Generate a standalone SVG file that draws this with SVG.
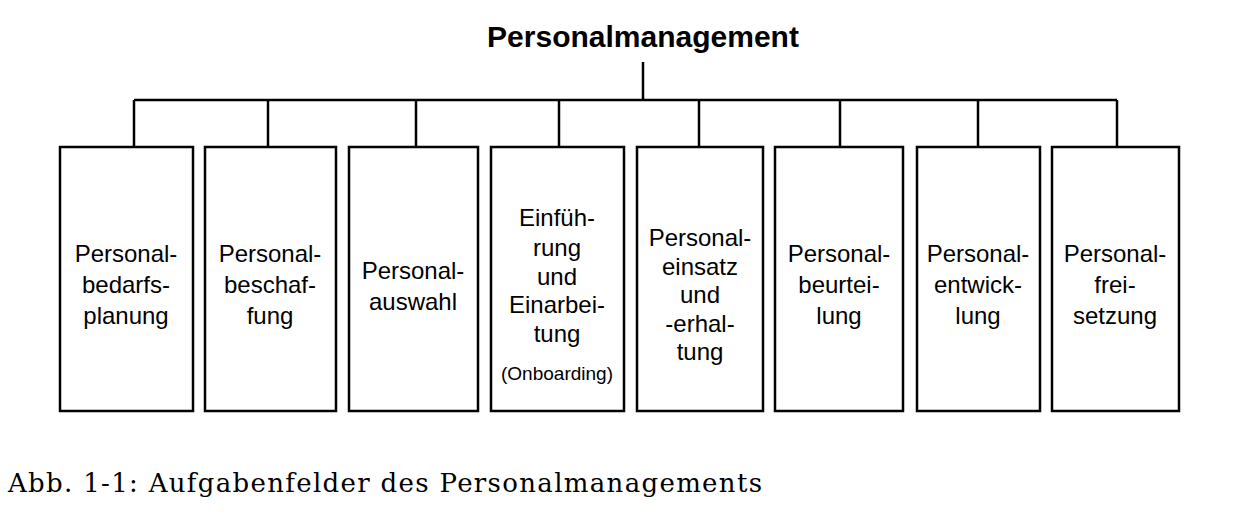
<svg xmlns="http://www.w3.org/2000/svg" width="1248" height="516" viewBox="0 0 1248 516">
<style>
.b{fill:#fff;stroke:#000;stroke-width:2.5}
.t{font-family:"Liberation Sans",Arial,sans-serif;font-size:24px;text-anchor:middle;fill:#000}
.s{font-size:19px}
.c line{stroke:#000;stroke-width:2.5}
</style>
<rect width="1248" height="516" fill="#fff"/>
<text x="643" y="47" class="t" style="font-weight:bold;font-size:30px">Personalmanagement</text>
<g class="c">
<line x1="643" y1="62" x2="643" y2="100"/>
<line x1="134" y1="100" x2="1117" y2="100"/>
<line x1="134" y1="100" x2="134" y2="147"/>
<line x1="268" y1="100" x2="268" y2="147"/>
<line x1="416" y1="100" x2="416" y2="147"/>
<line x1="559" y1="100" x2="559" y2="147"/>
<line x1="699" y1="100" x2="699" y2="147"/>
<line x1="840" y1="100" x2="840" y2="147"/>
<line x1="978" y1="100" x2="978" y2="147"/>
<line x1="1117" y1="100" x2="1117" y2="147"/>
</g>
<g id="n1"><rect class="b" x="60" y="147" width="133" height="264"/><text class="t"><tspan x="126" y="262">Personal-</tspan><tspan x="126" y="293">bedarfs-</tspan><tspan x="126" y="324">planung</tspan></text></g>
<g id="n2"><rect class="b" x="205" y="147" width="131" height="264"/><text class="t"><tspan x="270" y="262">Personal-</tspan><tspan x="270" y="293">beschaf-</tspan><tspan x="270" y="324">fung</tspan></text></g>
<g id="n3"><rect class="b" x="349" y="147" width="129" height="264"/><text class="t"><tspan x="413" y="279">Personal-</tspan><tspan x="413" y="310">auswahl</tspan></text></g>
<g id="n4"><rect class="b" x="491" y="147" width="133" height="264"/><text class="t"><tspan x="557" y="226">Einfüh-</tspan><tspan x="557" y="256">rung</tspan><tspan x="557" y="285">und</tspan><tspan x="557" y="313">Einarbei-</tspan><tspan x="557" y="342">tung</tspan><tspan x="557" y="380" class="s">(Onboarding)</tspan></text></g>
<g id="n5"><rect class="b" x="637" y="147" width="126" height="264"/><text class="t"><tspan x="700" y="246">Personal-</tspan><tspan x="700" y="275">einsatz</tspan><tspan x="700" y="303">und</tspan><tspan x="700" y="332">-erhal-</tspan><tspan x="700" y="360">tung</tspan></text></g>
<g id="n6"><rect class="b" x="775" y="147" width="128" height="264"/><text class="t"><tspan x="839" y="262">Personal-</tspan><tspan x="839" y="293">beurtei-</tspan><tspan x="839" y="324">lung</tspan></text></g>
<g id="n7"><rect class="b" x="917" y="147" width="123" height="264"/><text class="t"><tspan x="978" y="262">Personal-</tspan><tspan x="978" y="293">entwick-</tspan><tspan x="978" y="324">lung</tspan></text></g>
<g id="n8"><rect class="b" x="1052" y="147" width="127" height="264"/><text class="t"><tspan x="1115" y="262">Personal-</tspan><tspan x="1115" y="293">frei-</tspan><tspan x="1115" y="324">setzung</tspan></text></g>
<text x="8" y="492" textLength="754" style="font-family:'DejaVu Serif',serif;font-size:26px;fill:#000">Abb. 1-1: Aufgabenfelder des Personalmanagements</text>
</svg>
